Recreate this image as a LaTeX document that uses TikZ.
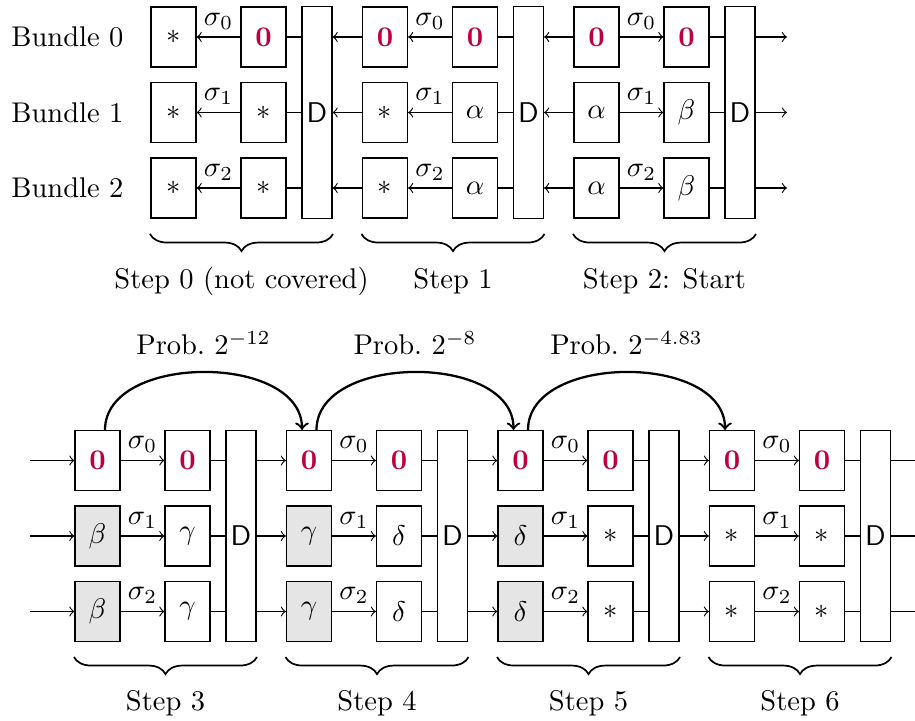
\documentclass[tikz,border=0pt]{standalone}
\usetikzlibrary{decorations.pathreplacing,calc}
\newcommand\zeroc{\textcolor{purple}{$\mathbf{0}$}}
\begin{document}
\begin{tikzpicture}[x=0.351pt,y=-0.351pt,
  cell/.style={draw, minimum width=15.8pt, minimum height=21.06pt, inner sep=0pt},
  gcell/.style={cell, fill=gray!20},
  dbox/.style={draw, minimum width=10.53pt, minimum height=74.2pt, inner sep=0pt, font=\sffamily},
  lab/.style={above, inner sep=2.5pt},
  hop/.style={->, thick},
  brace/.style={decorate, decoration={brace, mirror, amplitude=6pt}, semithick}
]
\useasboundingbox (0,0) rectangle (915,721);

% ---------- top part ----------
\foreach \r/\y in {0/37,1/112.5,2/188}
  \node[anchor=east, inner sep=0pt] (bl\r) at (124,\y) {Bundle \r};

\foreach \k/\x/\aa/\ab/\ba/\bb/\lab in {%
  0/151/{$*$}/{$*$}/\zeroc/{$*$}/{Step 0 (not covered)},
  1/362.5/\zeroc/{$*$}/\zeroc/{$\alpha$}/{Step 1},
  2/574/\zeroc/{$\alpha$}/\zeroc/{$\beta$}/{Step 2: Start}} {
  \node[cell] (t\k a0) at (\x+22.5,37) {\aa};
  \node[cell] (t\k a1) at (\x+22.5,112.5) {\ab};
  \node[cell] (t\k a2) at (\x+22.5,188) {\ab};
  \node[cell] (t\k b0) at (\x+112.5,37) {\ba};
  \node[cell] (t\k b1) at (\x+112.5,112.5) {\bb};
  \node[cell] (t\k b2) at (\x+112.5,188) {\bb};
  \node[dbox] (t\k d) at (\x+166,112.5) {D};
  \coordinate (tbl\k) at (\x-1,234);
  \coordinate (tbr\k) at (\x+182,234);
  \draw[brace] (tbl\k) -- (tbr\k);
  \node (tsl\k) at (\x+90.5,281) {\lab};
}

\foreach \r in {0,1,2} {
  \foreach \k in {0,1} {
    \draw[<-] (t\k a\r) -- node[lab] {$\sigma_\r$} (t\k b\r);
  }
  \draw[->] (t2a\r) -- node[lab] {$\sigma_\r$} (t2b\r);
  \foreach \k in {0,1,2}
    \draw (t\k b\r.east) -- (t\k d.west |- t\k b\r.east);
  \draw[<-] (t0d.east |- t1a\r.west) -- (t1a\r.west);
  \draw[<-] (t1d.east |- t2a\r.west) -- (t2a\r.west);
  \coordinate (tout\r) at (787,0 |- t2b\r);
  \draw[->] (t2d.east |- tout\r) -- (tout\r);
}

% ---------- bottom part ----------
\foreach \k/\x/\ab/\bb/\st/\lab in {%
  3/75/{$\beta$}/{$\gamma$}/gcell/{Step 3},
  4/286.5/{$\gamma$}/{$\delta$}/gcell/{Step 4},
  5/498/{$\delta$}/{$*$}/gcell/{Step 5},
  6/709.5/{$*$}/{$*$}/cell/{Step 6}} {
  \node[cell] (b\k a0) at (\x+22.5,460.5) {\zeroc};
  \node[\st] (b\k a1) at (\x+22.5,536) {\ab};
  \node[\st] (b\k a2) at (\x+22.5,611.5) {\ab};
  \node[cell] (b\k b0) at (\x+112.5,460.5) {\zeroc};
  \node[cell] (b\k b1) at (\x+112.5,536) {\bb};
  \node[cell] (b\k b2) at (\x+112.5,611.5) {\bb};
  \node[dbox] (b\k d) at (\x+166,536) {D};
  \coordinate (bbl\k) at (\x-1,657);
  \coordinate (bbr\k) at (\x+182,657);
  \draw[brace] (bbl\k) -- (bbr\k);
  \node (bsl\k) at (\x+90.5,703) {\lab};
}

\foreach \r in {0,1,2} {
  \coordinate (bin\r) at (30,0 |- b3a\r);
  \draw[->] (bin\r) -- (b3a\r.west);
  \foreach \k in {3,4,5,6} {
    \draw[->] (b\k a\r) -- node[lab] {$\sigma_\r$} (b\k b\r);
    \draw (b\k b\r.east) -- (b\k d.west |- b\k b\r.east);
  }
  \foreach \k/\n in {3/4,4/5,5/6}
    \draw[->] (b\k d.east |- b\n a\r.west) -- (b\n a\r.west);
  \coordinate (bout\r) at (915,0 |- b6b\r);
  \draw (b6d.east |- bout\r) -- (bout\r);
}

\foreach \k/\n/\p in {3/4/{$2^{-12}$}, 4/5/{$2^{-8}$}, 5/6/{$2^{-4.83}$}} {
  \coordinate (cs\k) at ($(b\k a0.north)+(7.5,0)$);
  \coordinate (ce\k) at ($(b\n a0.north)+(-7,0)$);
  \draw[hop] (cs\k) .. controls ($(cs\k)+(0,-77)$) and ($(ce\k)+(0,-77)$) .. (ce\k);
  \node (pl\k) at ($(cs\k)!0.5!(ce\k)+(0,-87)$) {Prob.\ \p};
}
\end{tikzpicture}
\end{document}
